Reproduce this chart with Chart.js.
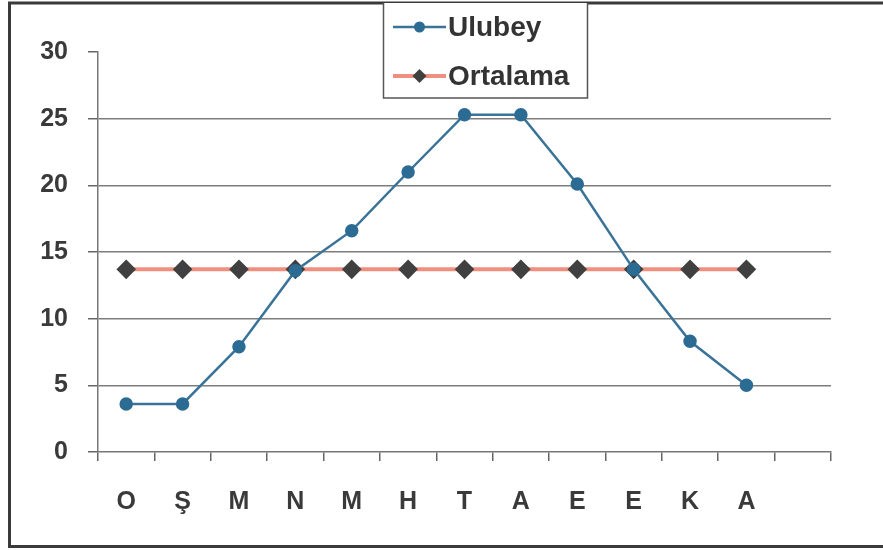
<!DOCTYPE html>
<html>
<head>
<meta charset="utf-8">
<script src="https://cdn.jsdelivr.net/npm/chart.js@4.4.1/dist/chart.umd.min.js"></script>
<style>
html,body{margin:0;padding:0;background:#fff;}
#wrap{position:relative;width:883px;height:550px;}
canvas{display:block;}
</style>
</head>
<body>
<div id="wrap"><canvas id="c" width="883" height="550"></canvas></div>
<script>
const categories = ['O','Ş','M','N','M','H','T','A','E','E','K','A',''];
const ulubey = [3.6, 3.6, 7.9, 13.6, 16.6, 21.0, 25.3, 25.3, 20.1, 13.7, 8.3, 5.0];
const ortalama = [13.7, 13.7, 13.7, 13.7, 13.7, 13.7, 13.7, 13.7, 13.7, 13.7, 13.7, 13.7];
const yTicks = [0, 5, 10, 15, 20, 25, 30];
const seriesNames = ['Ulubey', 'Ortalama'];

const FONT = "'Liberation Sans', Arial, sans-serif";

const framePlugin = {
  id: 'frame',
  beforeDraw(chart) {
    const ctx = chart.ctx;
    ctx.save();
    ctx.fillStyle = '#fff';
    ctx.fillRect(0, 0, chart.width, chart.height);
    ctx.restore();
  },
  afterDraw(chart) {
    const ctx = chart.ctx;
    ctx.save();
    ctx.strokeStyle = '#3a3a3a';
    ctx.lineWidth = 3;
    ctx.beginPath();
    ctx.moveTo(chart.width, 3);
    ctx.lineTo(9.5, 3);
    ctx.lineTo(9.5, 546.5);
    ctx.lineTo(chart.width, 546.5);
    ctx.stroke();

    const bx = 383.5, by = 3, bw = 204, bh = 95;
    ctx.fillStyle = '#fff';
    ctx.fillRect(bx, by, bw, bh);
    ctx.strokeStyle = '#555';
    ctx.lineWidth = 1.5;
    ctx.beginPath();
    ctx.moveTo(bx, by);
    ctx.lineTo(bx, by + bh);
    ctx.lineTo(bx + bw, by + bh);
    ctx.lineTo(bx + bw, by);
    ctx.stroke();

    const rows = [27, 76];
    chart.data.datasets.forEach((ds, i) => {
      const y = rows[i];
      ctx.strokeStyle = ds.borderColor;
      ctx.lineWidth = ds.borderWidth;
      ctx.beginPath();
      ctx.moveTo(393, y);
      ctx.lineTo(446, y);
      ctx.stroke();
      ctx.fillStyle = ds.pointBackgroundColor;
      ctx.beginPath();
      if (ds.pointStyle === 'rectRot') {
        const r = ds.pointRadius;
        ctx.moveTo(419.5, y - r);
        ctx.lineTo(419.5 + r, y);
        ctx.lineTo(419.5, y + r);
        ctx.lineTo(419.5 - r, y);
        ctx.closePath();
      } else {
        ctx.arc(419.5, y, ds.pointRadius, 0, Math.PI * 2);
      }
      ctx.fill();
      ctx.fillStyle = '#333';
      ctx.font = 'bold 28px ' + FONT;
      ctx.textBaseline = 'middle';
      ctx.textAlign = 'left';
      ctx.fillText(ds.label, 448, y + 1);
    });
    ctx.restore();
  }
};

new Chart(document.getElementById('c'), {
  type: 'line',
  data: {
    labels: categories,
    datasets: [
      {
        label: seriesNames[0],
        data: ulubey,
        borderColor: '#3a7398',
        backgroundColor: '#2c6b93',
        pointBackgroundColor: '#2c6b93',
        pointBorderColor: '#2c6b93',
        borderWidth: 2.5,
        pointRadius: 5.5,
        pointStyle: 'circle',
        tension: 0,
        order: 1
      },
      {
        label: seriesNames[1],
        data: ortalama,
        borderColor: '#ee8f80',
        backgroundColor: '#404040',
        pointBackgroundColor: '#404040',
        pointBorderColor: '#404040',
        borderWidth: 4,
        pointRadius: 7,
        pointStyle: 'rectRot',
        tension: 0,
        order: 2
      }
    ]
  },
  options: {
    responsive: false,
    animation: false,
    devicePixelRatio: 1,
    layout: { padding: { left: 0, right: 52, top: 52, bottom: 0 } },
    plugins: {
      legend: { display: false },
      tooltip: { enabled: false }
    },
    scales: {
      x: {
        offset: true,
        grid: {
          offset: true,
          drawOnChartArea: false,
          drawTicks: true,
          tickLength: 9,
          tickColor: '#666',
          lineWidth: 1.5
        },
        border: { display: true, color: '#777', width: 1.5 },
        ticks: {
          color: '#3a3a3a',
          font: { family: FONT, size: 25, weight: 'bold' },
          padding: 26,
          autoSkip: false,
          maxRotation: 0
        },
        afterFit(scale) { scale.height = 98; }
      },
      y: {
        min: 0,
        max: 30,
        afterBuildTicks(scale) { scale.ticks = yTicks.map(v => ({ value: v })); },
        grid: {
          color: (c) => (c.tick && (c.tick.value === 30 || c.tick.value === 0)) ? 'rgba(0,0,0,0)' : '#7d7d7d',
          tickColor: '#666',
          lineWidth: 1.5,
          tickLength: 10,
          drawTicks: true
        },
        border: { display: true, color: '#777', width: 1.5 },
        ticks: {
          color: '#3a3a3a',
          font: { family: FONT, size: 25, weight: 'bold' },
          padding: 20
        },
        afterFit(scale) { scale.width = 98; }
      }
    }
  },
  plugins: [framePlugin]
});
</script>
</body>
</html>
